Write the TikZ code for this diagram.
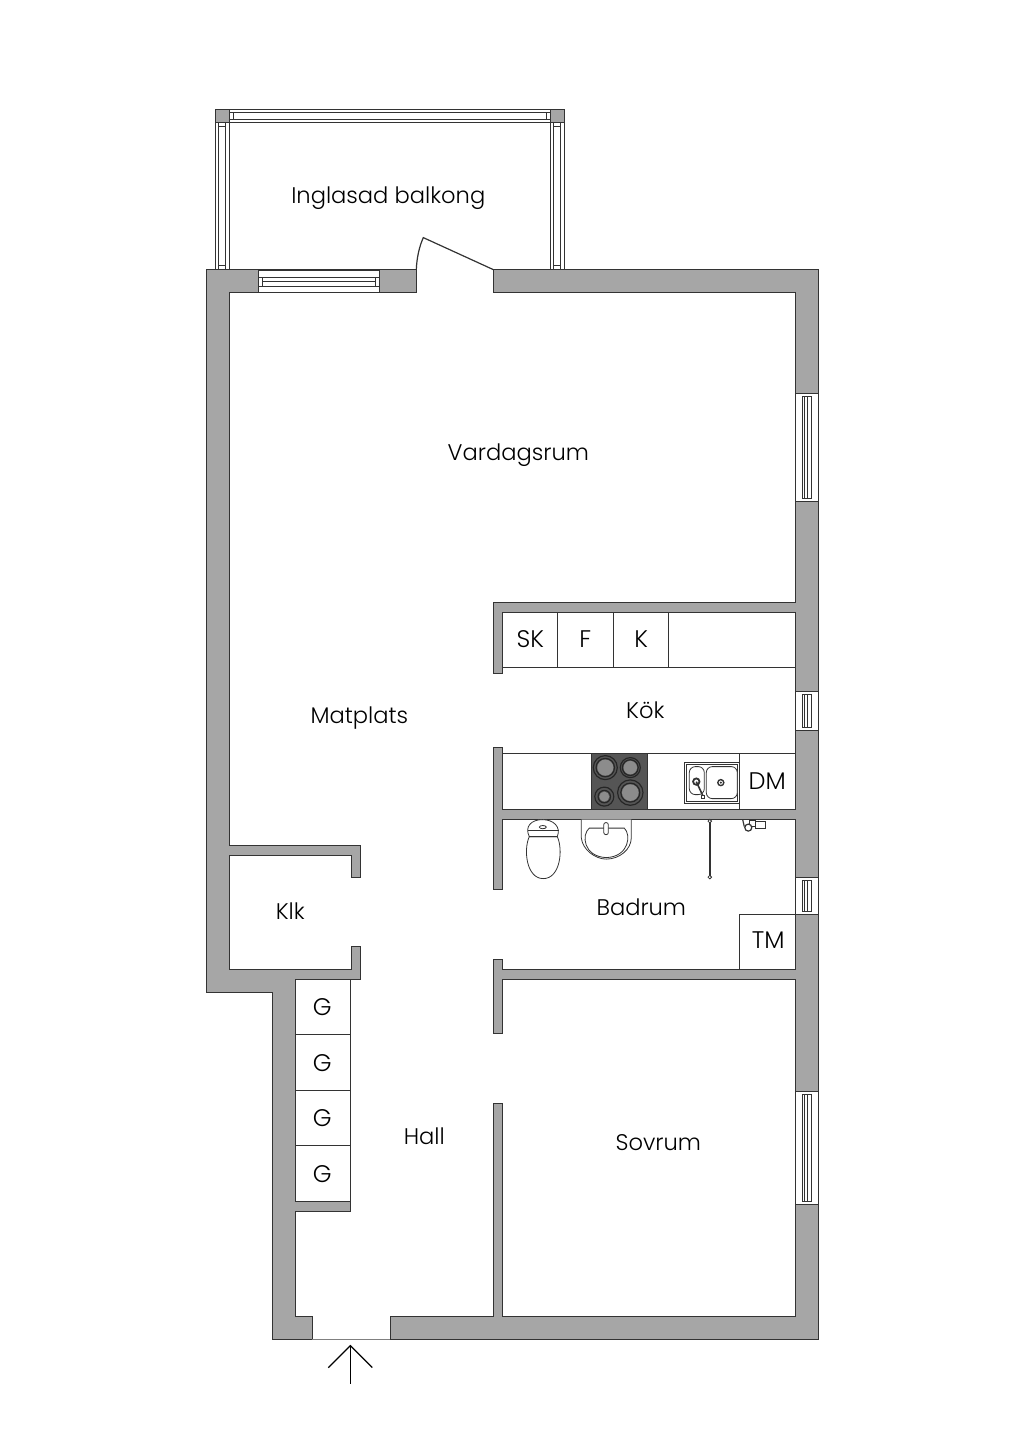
\documentclass[tikz,border=0pt]{standalone}
\usepackage{xcolor}
\usepackage{fontspec}
\setmainfont{Poppins}[UprightFont=* Light]
\definecolor{wallgray}{HTML}{A6A6A6}
\definecolor{linegray}{HTML}{333333}
\definecolor{hobgray}{HTML}{555555}
\definecolor{platgray}{HTML}{8C8C8C}

\begin{document}
\begin{tikzpicture}[x=0.5pt, y=-0.5pt,
    wall/.style={draw=linegray, fill=wallgray, line width=0.5pt},
    glass/.style={draw=linegray, fill=white, line width=0.5pt},
    fixture/.style={draw=linegray, fill=white, line width=0.4pt},
    unit/.style={draw=linegray, line width=0.5pt},
    room/.style={font=\fontsize{11.3}{14}\selectfont, text=black, inner sep=0pt, anchor=base},
    tag/.style={font=\fontsize{12}{14}\selectfont, text=black, inner sep=0pt, anchor=base}]
    \useasboundingbox (0.7,0.4) rectangle (1024.7,1448.4);

    % Balcony rails
    \draw[glass] (230,109.5) rectangle (551,123);
    \draw[glass] (230,113) rectangle (551,120);
    \draw[glass] (234,113) rectangle (547,120);
    \foreach \xa/\xb in {216/230, 551/565} {
        \draw[glass] (\xa,123) rectangle (\xb,270);
        \draw[glass] (\xa+3.5,123) rectangle (\xb-3.5,270);
        \draw[glass] (\xa+3.5,127) rectangle (\xb-3.5,266);
        \draw[wall] (\xa,109.5) rectangle (\xb,123);
    }

    % Balcony door
    \draw[line width=0.6pt, draw=linegray] (417,270) .. controls (417.5,258) and (420,247) .. (424,238) -- (494,270);

    % Walls
    \draw[wall] (207,270) -- (417,270) -- (417,293) -- (230,293) -- (230,846) -- (361,846) -- (361,878) -- (352,878)
        -- (352,856) -- (230,856) -- (230,970) -- (352,970) -- (352,947) -- (361,947) -- (361,980) -- (296,980)
        -- (296,1202) -- (351,1202) -- (351,1212) -- (296,1212) -- (296,1317) -- (313,1317) -- (313,1340)
        -- (273,1340) -- (273,993) -- (207,993) -- cycle;
    \draw[wall] (494,270) -- (819,270) -- (819,1340) -- (391,1340) -- (391,1317) -- (494,1317) -- (494,1104)
        -- (503,1104) -- (503,1317) -- (796,1317) -- (796,980) -- (503,980) -- (503,1034) -- (494,1034)
        -- (494,960) -- (503,960) -- (503,970) -- (796,970) -- (796,820) -- (503,820) -- (503,890) -- (494,890)
        -- (494,748) -- (503,748) -- (503,810) -- (796,810) -- (796,613) -- (503,613) -- (503,674) -- (494,674)
        -- (494,603) -- (796,603) -- (796,293) -- (494,293) -- cycle;
    \draw[draw=gray, line width=0.6pt] (313,1340) -- (391,1340);

    % Windows
    \draw[glass] (259,271) rectangle (380,293);
    \draw[glass] (259,278) rectangle (380,286.5);
    \draw[glass] (263,281.5) rectangle (376,286.5);
    \draw[unit] (263,278) -- (263,286.5) (376,278) -- (376,286.5);
    \foreach \ya/\yb in {394/502, 692/731, 878/915, 1092/1205} {
        \draw[glass] (796,\ya) rectangle (819,\yb);
        \draw[glass] (803,\ya+3) rectangle (812,\yb-3);
        \draw[glass] (805,\ya+3) rectangle (808.5,\yb-3);
    }

    % Storage
    \foreach \ya/\yb in {980/1035, 1035/1091, 1091/1146, 1146/1202} {
        \draw[unit] (296,\ya) rectangle (351,\yb);
    }

    % Kitchen units
    \draw[unit] (503,668) -- (796,668);
    \draw[unit] (558.5,613) -- (558.5,668);
    \draw[unit] (614,613) -- (614,668);
    \draw[unit] (669.5,613) -- (669.5,668);
    \draw[unit] (503,754) -- (796,754);
    \draw[unit] (740,754) -- (740,810);
    \draw[unit] (740,970) -- (740,914.5) -- (796,914.5);

    % Hob
    \draw[draw=linegray, fill=hobgray, line width=0.5pt] (592,754) rectangle (648,809.5);
    \foreach \cx/\cy/\rad/\core in {606/768/12/8, 631/768/10/6.7, 605/797/9.5/5, 631/793/12.7/8.3} {
        \draw[draw=black!85, line width=0.6pt] (\cx,\cy) circle (\rad);
        \draw[draw=black!85, line width=0.6pt] (\cx,\cy) circle (\core+1.2);
        \draw[fill=platgray, draw=none] (\cx,\cy) circle (\core);
    }

    % Kitchen sink
    \draw[fixture, line width=0.5pt] (685,763) rectangle (740,803.5);
    \draw[fixture] (687,765) rectangle (738,801.5);
    \draw[fixture, rounded corners=3pt] (690,767) rectangle (705,795);
    \draw[fixture, rounded corners=3pt] (707,767) rectangle (738,799);
    \draw[fixture, line width=0.9pt] (697,782) circle (3.2);
    \draw[fixture, line width=0.7pt] (721.5,783) circle (3);
    \draw[fill=linegray, draw=linegray] (721.5,783) circle (0.6);
    \draw[draw=linegray, line width=0.8pt] (697,782) -- (703.5,796);
    \draw[fixture] (702,796) rectangle (705.5,799);

    % Toilet
    \draw[fixture] (530,837) .. controls (524,850) and (527,879) .. (544,879) .. controls (561,879) and (564,850) .. (558,837) -- cycle;
    \draw[fixture] (530,837) .. controls (525,827) and (532,820) .. (543,820) .. controls (554,820) and (562,827) .. (558,837) -- cycle;
    \draw[fixture] (528.5,831) -- (559.5,831);
    \draw[fixture] (543.5,827.5) ellipse (3.5 and 1.6);

    % Basin
    \draw[fixture] (582,820) -- (582,838) .. controls (583,850) and (596,859.5) .. (607,859.5) .. controls (620,859.5) and (632,850) .. (632,838) -- (632,820);
    \draw[fixture] (590,828.5) -- (625,828.5) .. controls (632,835) and (630,857) .. (607,858) .. controls (584,857) and (582,835) .. (590,828.5) -- cycle;
    \draw[fixture, rounded corners=1pt] (604.5,823) rectangle (609,835);

    % Shower
    \draw[draw=linegray, line width=0.8pt] (710.5,822) -- (710.5,877);
    \draw[fixture] (710.5,821.5) circle (1.8);
    \draw[fixture] (710.5,877.5) circle (1.8);
    \draw[fixture, line width=0.6pt] (756,822) rectangle (766,828.5);
    \draw[fixture, line width=0.6pt] (750,820.5) rectangle (756,827);
    \draw[fixture, line width=0.6pt] (749,828) circle (3.5);
    \draw[draw=linegray, line width=0.6pt] (743.5,820.5) -- (745,827);

    % Rooms
    \node[room] (balkong) at (389,204) {Inglasad balkong};
    \node[room] (vardagsrum) at (519,461) {Vardagsrum};
    \node[room] (matplats) at (360,724) {Matplats};
    \node[room] (kok) at (646,719) {Kök};
    \node[room] (klk) at (291,920) {Klk};
    \node[room] (badrum) at (642,916) {Badrum};
    \node[room] (hall) at (425,1145) {Hall};
    \node[room] (sovrum) at (659,1151) {Sovrum};

    % Appliances
    \node[tag] (sk) at (531,648) {SK};
    \node[tag] (frys) at (586,648) {F};
    \node[tag] (kyl) at (642,647.5) {K};
    \node[tag] (dm) at (768,790) {DM};
    \node[tag] (tm) at (769,949) {TM};
    \node[tag] (g1) at (323,1016) {G};
    \node[tag] (g2) at (323,1072) {G};
    \node[tag] (g3) at (323,1127) {G};
    \node[tag] (g4) at (323,1183) {G};

    % Entrance
    \coordinate (tail) at (351,1384);
    \coordinate (tip) at (351,1346);
    \coordinate (wingl) at (329,1368);
    \coordinate (wingr) at (373,1368);
    \draw[line width=0.6pt] (tail) -- (tip);
    \draw[line width=0.6pt] (wingl) -- (tip) -- (wingr);
\end{tikzpicture}
\end{document}
